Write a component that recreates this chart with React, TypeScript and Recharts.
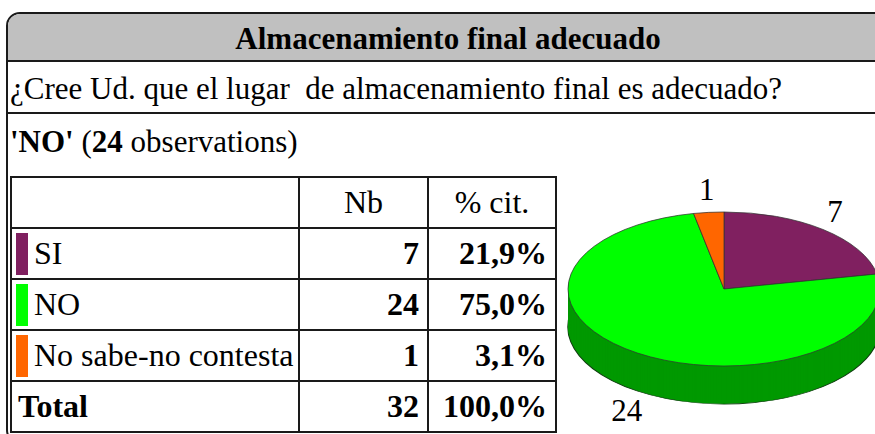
import { PieChart, Pie, Cell } from "recharts";

const categories = ["SI", "NO", "No sabe-no contesta"];
const counts = [7, 24, 1];
const colors = ["#802060", "#00ff00", "#ff6600"];
const sideColors = ["#561540", "#009900", "#b34700"];

const title = "Almacenamiento final adecuado";
const question = "¿Cree Ud. que el lugar  de almacenamiento final es adecuado?";

const data = categories.map((name, i) => ({ name, value: counts[i] }));
const total = counts.reduce((a, b) => a + b, 0);
const pct = (v: number) => ((v / total) * 100).toFixed(1).replace(".", ",") + "%";

const FONT = "'Liberation Serif', 'Times New Roman', serif";
const LINE = "#1a1a1a";

// the pie is drawn round and squashed vertically, side is stacked layers
const SQUASH = 0.4936;
const DEPTH = 38;
const CHART_L = 555;
const CHART_T = 170;
const CHART_W = 330;
const CHART_H = 540;
const CX = 169;
const CY = (289 - CHART_T) / SQUASH;
const R = 156;

const renderLabel = (props: any) => {
  const { cx, cy, midAngle, value } = props;
  const a = (-midAngle * Math.PI) / 180;
  const lx = cx + 175 * Math.cos(a);
  let ly = cy + (100 / SQUASH) * Math.sin(a);
  if (Math.sin(a) > 0) ly += DEPTH / SQUASH;
  return (
    <text
      transform={`translate(${lx} ${ly}) scale(1 ${1 / SQUASH})`}
      textAnchor="middle"
      dominantBaseline="central"
      fontFamily={FONT}
      fontSize={31}
      fill="#000"
    >
      {value}
    </text>
  );
};

function Pie3D() {
  const offsets = Array.from({ length: DEPTH }, (_, i) => DEPTH - i);
  return (
    <div
      style={{
        position: "absolute",
        left: CHART_L,
        top: CHART_T,
        transform: `scaleY(${SQUASH})`,
        transformOrigin: "0 0",
      }}
    >
      <PieChart width={CHART_W} height={CHART_H} margin={{ top: 0, right: 0, bottom: 0, left: 0 }}>
        {offsets.map((off) => (
          <Pie
            key={off}
            data={data}
            dataKey="value"
            nameKey="name"
            cx={CX}
            cy={CY + off / SQUASH}
            outerRadius={R}
            startAngle={90}
            endAngle={-270}
            stroke={off === DEPTH ? "#104010" : "none"}
            strokeWidth={1.5}
            isAnimationActive={false}
          >
            {data.map((d, i) => (
              <Cell key={d.name} fill={sideColors[i]} />
            ))}
          </Pie>
        ))}
        <Pie
          data={data}
          dataKey="value"
          nameKey="name"
          cx={CX}
          cy={CY}
          outerRadius={R}
          startAngle={90}
          endAngle={-270}
          stroke="#333"
          strokeWidth={1}
          label={renderLabel}
          labelLine={false}
          isAnimationActive={false}
        >
          {data.map((d, i) => (
            <Cell key={d.name} fill={colors[i]} />
          ))}
        </Pie>
      </PieChart>
    </div>
  );
}

const COLS = [288, 129, 128];
const ROW_H = 51;

function Table() {
  const cell = (j: number, extra: any = {}) => ({
    boxSizing: "border-box" as const,
    height: ROW_H,
    borderRight: `2px solid ${LINE}`,
    borderBottom: `2px solid ${LINE}`,
    lineHeight: `${ROW_H - 2}px`,
    fontSize: 32,
    whiteSpace: "nowrap" as const,
    overflow: "hidden",
    ...extra,
  });
  const num = { textAlign: "right" as const, paddingRight: 8, fontWeight: "bold" };
  return (
    <div
      style={{
        position: "absolute",
        left: 10,
        top: 176,
        display: "grid",
        gridTemplateColumns: COLS.map((c) => `${c}px`).join(" "),
        borderLeft: `2px solid ${LINE}`,
        borderTop: `2px solid ${LINE}`,
      }}
    >
      <div style={cell(0)} />
      <div style={cell(1, { textAlign: "center" })}>Nb</div>
      <div style={cell(2, { textAlign: "center" })}>% cit.</div>
      {categories.map((c, i) => [
        <div key={c + "a"} style={cell(0, { display: "flex", alignItems: "center" })}>
          <span
            style={{
              display: "inline-block",
              width: 12,
              height: 42,
              marginLeft: 4,
              marginRight: 6,
              background: colors[i],
            }}
          />
          <span>{c}</span>
        </div>,
        <div key={c + "b"} style={cell(1, num)}>{counts[i]}</div>,
        <div key={c + "c"} style={cell(2, num)}>{pct(counts[i])}</div>,
      ])}
      <div style={cell(0, { fontWeight: "bold", paddingLeft: 6 })}>Total</div>
      <div style={cell(1, num)}>{total}</div>
      <div style={cell(2, num)}>{pct(total)}</div>
    </div>
  );
}

export default function App() {
  return (
    <div
      style={{
        position: "fixed",
        left: 0,
        top: 0,
        width: 875,
        height: 434,
        overflow: "hidden",
        background: "#fff",
        fontFamily: FONT,
        color: "#000",
      }}
    >
      <div
        style={{
          position: "absolute",
          left: 6,
          top: 12,
          width: 884,
          height: 432,
          boxSizing: "border-box",
          border: `2px solid ${LINE}`,
          borderRadius: 14,
          overflow: "hidden",
        }}
      >
        <div
          style={{
            height: 48,
            boxSizing: "border-box",
            background: "#c0c0c0",
            borderBottom: `2px solid ${LINE}`,
          }}
        />
        <div style={{ position: "absolute", left: 0, top: 98, width: "100%", borderTop: `2px solid ${LINE}` }} />
      </div>
      <div
        style={{
          position: "absolute",
          left: 6,
          width: 884,
          top: 23,
          fontSize: 31,
          lineHeight: "31px",
          fontWeight: "bold",
          textAlign: "center",
        }}
      >
        {title}
      </div>
      <div style={{ position: "absolute", left: 10, top: 73, fontSize: 31, lineHeight: "31px", whiteSpace: "pre" }}>
        {question}
      </div>
      <div style={{ position: "absolute", left: 10, top: 126, fontSize: 31, lineHeight: "31px", whiteSpace: "pre" }}>
        <b>'NO'</b> (<b>24</b> observations)
      </div>
      <Table />
      <Pie3D />
    </div>
  );
}
